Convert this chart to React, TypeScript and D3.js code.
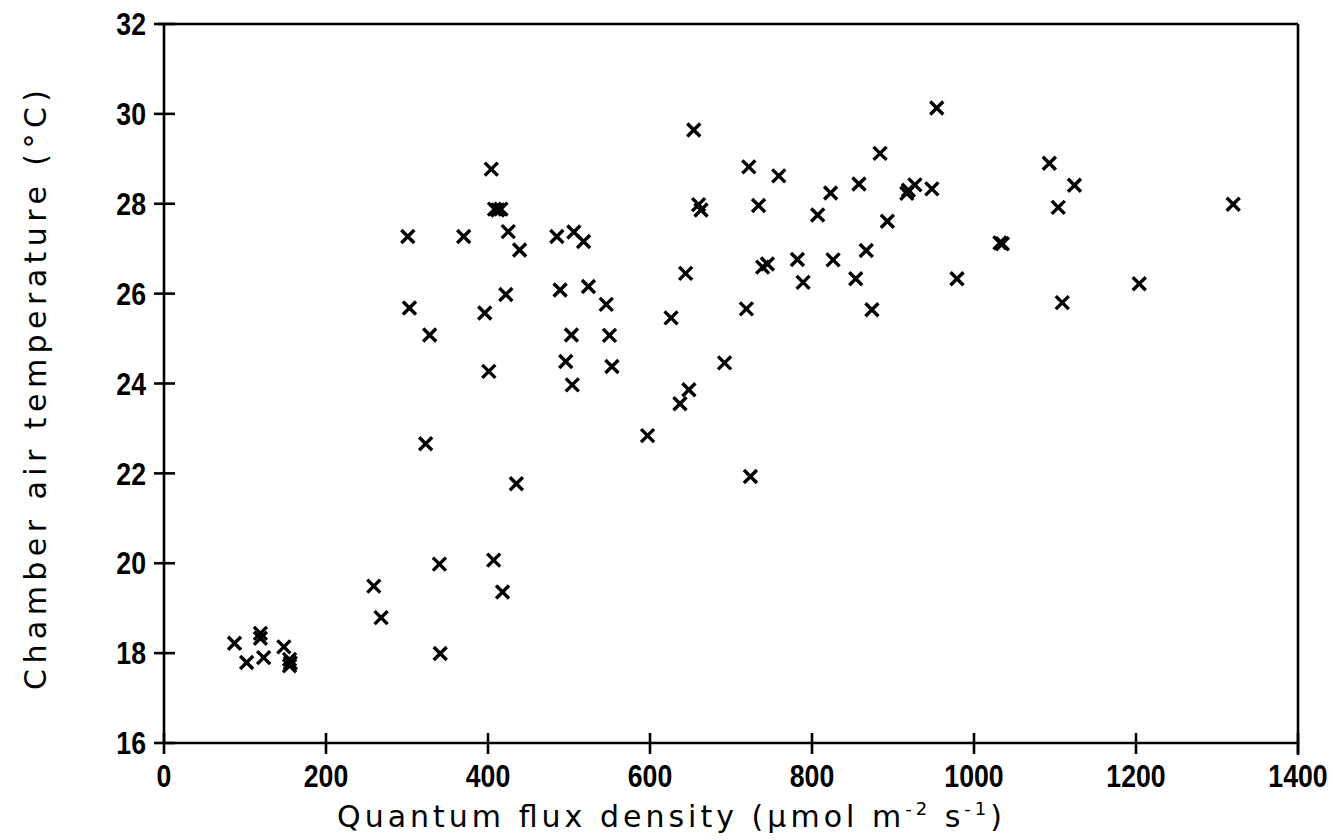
import React from "react";
import * as d3 from "d3";

const fluxValues = [
  87, 102, 119, 119, 123, 148, 155, 155, 156,
  259, 268, 340, 341, 407, 418,
  301, 370, 404, 408, 412, 416, 425, 439,
  303, 328, 396, 401, 422, 323, 435,
  485, 506, 518, 489, 524, 546, 503, 550, 496, 553, 504,
  654, 660, 663, 722, 759, 734, 644, 626, 692, 648, 637, 597, 719, 724,
  739, 745, 782, 789, 807, 823, 826, 858, 854, 867, 874, 884, 893,
  917, 919, 927, 948, 954, 979,
  1032, 1035, 1093, 1104, 1109, 1124, 1204, 1320,
];
const tempValues = [
  18.22, 17.79, 18.44, 18.33, 17.9, 18.14, 17.86, 17.72, 17.78,
  19.49, 18.79, 19.98, 17.99, 20.07, 19.36,
  27.27, 27.27, 28.77, 27.88, 27.86, 27.88, 27.38, 26.97,
  25.68, 25.08, 25.57, 24.27, 25.98, 22.66, 21.77,
  27.27, 27.37, 27.16, 26.08, 26.16, 25.76, 25.08, 25.07, 24.49, 24.38, 23.97,
  29.64, 27.98, 27.86, 28.82, 28.62, 27.96, 26.45, 25.46, 24.46, 23.86, 23.55, 22.84, 25.66, 21.93,
  26.59, 26.66, 26.76, 26.25, 27.75, 28.24, 26.75, 28.44, 26.33, 26.96, 25.64, 29.12, 27.61,
  28.23, 28.3, 28.42, 28.33, 30.13, 26.33,
  27.13, 27.11, 28.9, 27.92, 25.8, 28.41, 26.22, 27.99,
];
const xTicks = [0, 200, 400, 600, 800, 1000, 1200, 1400];
const yTicks = [16, 18, 20, 22, 24, 26, 28, 30, 32];

export default function App() {
  const W = 1342, H = 840;
  const x = d3.scaleLinear().domain([0, 1400]).range([164, 1298]);
  const y = d3.scaleLinear().domain([16, 32]).range([743, 24]);
  const ink = "#000";
  const sw = 2.6;
  const m = 6.5;
  const fs = 31;
  const sx = 0.86;
  return (
    <svg width={W} height={H} style={{ position: "absolute", left: 0, top: 0, background: "#fff" }}>
      <rect x={0} y={0} width={W} height={H} fill="#fff" />
      {/* frame */}
      <line x1={x(0)} y1={y(16)} x2={x(1400)} y2={y(16)} stroke={ink} strokeWidth={sw} />
      <line x1={x(0)} y1={y(16)} x2={x(0)} y2={y(32)} stroke={ink} strokeWidth={sw} />
      <line x1={x(0) - 6} y1={y(32)} x2={x(1400)} y2={y(32)} stroke={ink} strokeWidth={sw} />
      <line x1={x(1400)} y1={y(32)} x2={x(1400)} y2={y(16) + 12} stroke={ink} strokeWidth={sw} />
      {/* y ticks */}
      {yTicks.map((t) => (
        <g key={"y" + t}>
          <line x1={x(0) - 10} x2={x(0) + 11} y1={y(t)} y2={y(t)} stroke={ink} strokeWidth={sw} />
          <g transform={`translate(${x(0) - 18},${y(t)}) scale(${sx},1)`}>
            <text x={0} y={0} dy="0.36em" textAnchor="end" fontFamily="Liberation Sans, Arial, sans-serif"
              fontSize={fs} fontWeight={600}>{t}</text>
          </g>
        </g>
      ))}
      {/* x ticks */}
      {xTicks.map((t) => (
        <g key={"x" + t}>
          <line x1={x(t)} x2={x(t)} y1={y(16) - 10} y2={y(16) + 11} stroke={ink} strokeWidth={sw} />
          <g transform={`translate(${x(t)},787) scale(${sx},1)`}>
            <text x={0} y={0} textAnchor="middle" fontFamily="Liberation Sans, Arial, sans-serif"
              fontSize={fs} fontWeight={600}>{t}</text>
          </g>
        </g>
      ))}
      {/* points */}
      {fluxValues.map((f, i) => (
        <path key={"p" + i}
          d={`M${x(f) - m},${y(tempValues[i]) - m}L${x(f) + m},${y(tempValues[i]) + m}M${x(f) - m},${y(tempValues[i]) + m}L${x(f) + m},${y(tempValues[i]) - m}`}
          stroke={ink} strokeWidth={3.4} fill="none" />
      ))}
      {/* x title */}
      <text x={337} y={827} textLength={665} lengthAdjust="spacing"
        fontFamily="DejaVu Sans, sans-serif" fontSize={30}>
        Quantum flux density (μmol m<tspan dy={-12} fontSize={18}>-2</tspan><tspan dy={12}> s</tspan><tspan dy={-12} fontSize={18}>-1</tspan><tspan dy={12}>)</tspan>
      </text>
      {/* y title */}
      <text transform={`translate(46,390) rotate(-90)`} textAnchor="middle" textLength={600} lengthAdjust="spacing"
        fontFamily="DejaVu Sans, sans-serif" fontSize={30}>
        Chamber air temperature (°C)
      </text>
    </svg>
  );
}
